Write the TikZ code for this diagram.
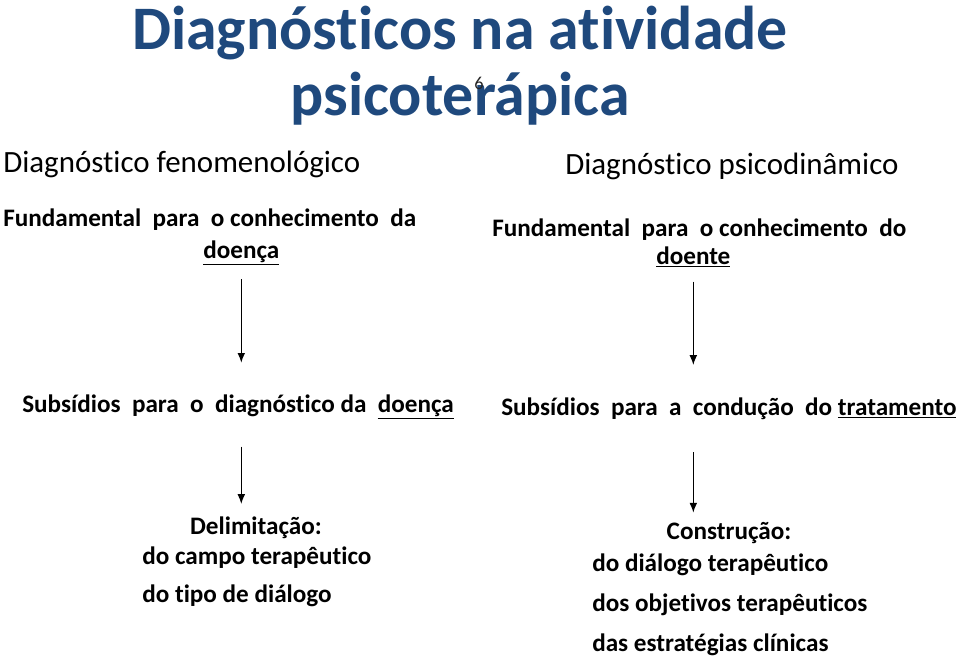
\documentclass[tikz,border=0pt]{standalone}
\usepackage{fontspec}
\setmainfont{Carlito}[Ligatures=NoCommon]
\usetikzlibrary{arrows,arrows.meta,positioning}
\definecolor{azultitulo}{RGB}{31,73,125}

\begin{document}
\begin{tikzpicture}[x=0.025cm, y=-0.025cm]
        \tikzstyle{titulo}=[inner sep=0, text=azultitulo, font=\fontsize{44}{48}\selectfont\bfseries, anchor=base]
        \tikzstyle{cabeca}=[inner sep=0, font=\fontsize{22}{26}\selectfont, anchor=base west]
        \tikzstyle{texto}=[inner sep=0, font=\fontsize{17.9}{21}\selectfont\bfseries, anchor=base west]
        \tikzstyle{pagina}=[inner sep=0, text=black!85, font=\fontsize{10}{12}\selectfont, anchor=base]
        \tikzstyle{seta}=[-{Latex[length=7pt,width=5.5pt]}, line width=1pt]
        \useasboundingbox (0,0) rectangle (960,658);
        % titulo
        \node [titulo] (tit1) at (460,49) {Diagn\'osticos na atividade};
        \node [titulo] (tit2) at (460,115) {psicoter\'apica};
        \node [pagina, scale=1.3] (num) at (479,89) {6};
        % coluna esquerda
        \node [cabeca] (fen) at (3,172) {Diagn\'ostico fenomenol\'ogico};
        \node [texto] (fundA) at (3,226) {Fundamental\ \ para\ \ o conhecimento\ \ da};
        \node [texto] (doenca) at (203,258) {\underline{doença}};
        \node [texto] (subsA) at (22,412) {Subs\'idios\ \ para\ \ o\ \ diagn\'ostico da\ \ \underline{doença}};
        \node [texto, anchor=base] (delim) at (256,534) {Delimitaç\~ao:};
        \node [texto] (campo) at (142,564) {do campo terap\^eutico};
        \node [texto] (tipo) at (142,602) {do tipo de di\'alogo};
        % coluna direita
        \node [cabeca] (psi) at (565,174) {Diagn\'ostico psicodin\^amico};
        \node [texto] (fundB) at (492,236) {Fundamental\ \ para\ \ o conhecimento\ \ do};
        \node [texto] (doente) at (656,264) {\underline{doente}};
        \node [texto] (subsB) at (501,415) {Subs\'idios\ \ para\ \ a\ \ conduç\~ao\ \ do \underline{tratamento}};
        \node [texto, anchor=base] (constr) at (729,539) {Construç\~ao:};
        \node [texto] (dialogo) at (592,571) {do di\'alogo terap\^eutico};
        \node [texto] (objet) at (592,611) {dos objetivos terap\^euticos};
        \node [texto] (estrat) at (592,651) {das estrat\'egias cl\'inicas};
        % setas
        \draw [seta, shorten <=0.35cm, shorten >=0.78cm] (doenca.south) -- (doenca.south |- subsA.north);
        \draw [seta, shorten <=0.36cm, shorten >=0.8cm] (doente.south) -- (doente.south |- subsB.north);
        \draw [seta, shorten <=0.68cm, shorten >=0.3cm] (subsA.south -| doenca) -- (doenca |- delim.north);
        \draw [seta, shorten <=0.82cm, shorten >=0.22cm] (subsB.south -| doente) -- (doente |- constr.north);
\end{tikzpicture}
\end{document}
